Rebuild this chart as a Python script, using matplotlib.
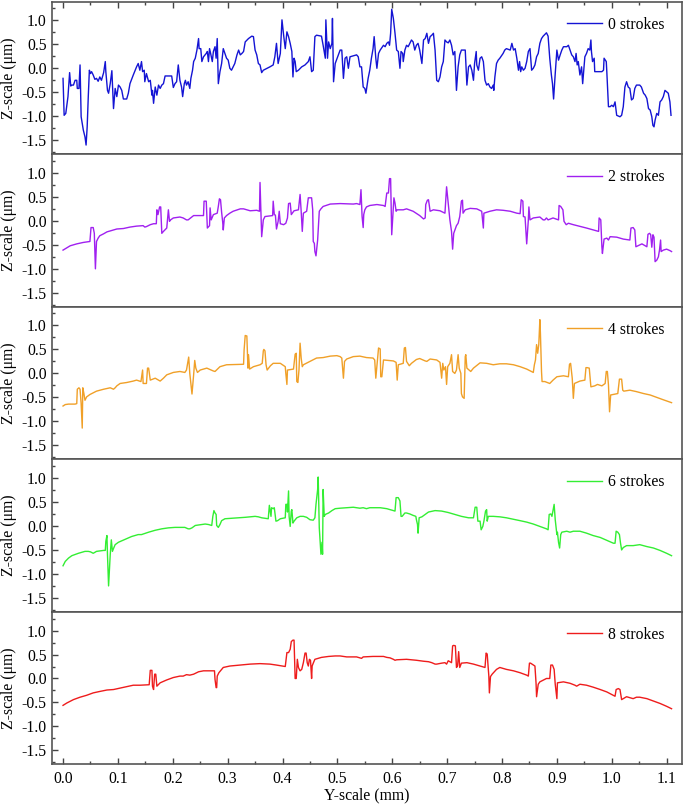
import numpy as np
import matplotlib
matplotlib.use("Agg")
import matplotlib.pyplot as plt
from matplotlib.ticker import MultipleLocator

plt.rcParams['font.family'] = ['Liberation Serif', 'DejaVu Serif']
plt.rcParams['font.size'] = 11.3

labels = ["0 strokes", "2 strokes", "4 strokes", "6 strokes", "8 strokes"]
colors = ["#1414d4", "#a020f0", "#f0a028", "#33ee33", "#ee1c1c"]

# 0 strokes
x0 = [0.000, 0.002, 0.005, 0.009, 0.010, 0.012, 0.014, 0.016, 0.019, 0.022, 0.025, 0.026, 0.029, 0.031,
      0.033, 0.037, 0.040, 0.042, 0.044, 0.046, 0.048, 0.050, 0.052, 0.055, 0.058, 0.061, 0.064, 0.067,
      0.070, 0.074, 0.077, 0.078, 0.081, 0.083, 0.086, 0.089, 0.092, 0.095, 0.098, 0.101, 0.104, 0.107,
      0.110, 0.116, 0.119, 0.122, 0.128, 0.134, 0.137, 0.140, 0.143, 0.145, 0.148, 0.149, 0.152, 0.156,
      0.159, 0.162, 0.163, 0.165, 0.168, 0.171, 0.174, 0.177, 0.180, 0.183, 0.186, 0.198, 0.201, 0.204,
      0.207, 0.210, 0.213, 0.216, 0.218, 0.221, 0.223, 0.225, 0.228, 0.231, 0.233, 0.236, 0.238, 0.241,
      0.244, 0.247, 0.248, 0.251, 0.253, 0.256, 0.261, 0.263, 0.265, 0.267, 0.269, 0.272, 0.274, 0.277,
      0.279, 0.281, 0.283, 0.286, 0.289, 0.292, 0.295, 0.298, 0.301, 0.304, 0.307, 0.310, 0.313, 0.317,
      0.320, 0.323, 0.326, 0.329, 0.332, 0.338, 0.344, 0.347, 0.350, 0.353, 0.356, 0.359, 0.362, 0.365,
      0.377, 0.383, 0.386, 0.389, 0.392, 0.396, 0.399, 0.402, 0.405, 0.408, 0.411, 0.414, 0.417, 0.419,
      0.421, 0.423, 0.425, 0.429, 0.435, 0.441, 0.447, 0.450, 0.453, 0.456, 0.459, 0.462, 0.471, 0.474,
      0.478, 0.479, 0.482, 0.484, 0.487, 0.490, 0.491, 0.493, 0.496, 0.505, 0.508, 0.511, 0.514, 0.517,
      0.520, 0.523, 0.535, 0.538, 0.541, 0.544, 0.547, 0.550, 0.552, 0.556, 0.559, 0.562, 0.565, 0.567,
      0.570, 0.572, 0.575, 0.578, 0.584, 0.587, 0.590, 0.593, 0.595, 0.597, 0.599, 0.602, 0.605, 0.608,
      0.611, 0.614, 0.616, 0.619, 0.620, 0.623, 0.626, 0.629, 0.632, 0.635, 0.638, 0.641, 0.644, 0.647,
      0.650, 0.654, 0.657, 0.660, 0.663, 0.666, 0.669, 0.672, 0.675, 0.678, 0.681, 0.684, 0.687, 0.690,
      0.693, 0.696, 0.699, 0.702, 0.705, 0.708, 0.711, 0.714, 0.717, 0.720, 0.723, 0.726, 0.733, 0.736,
      0.739, 0.742, 0.745, 0.748, 0.750, 0.753, 0.754, 0.757, 0.760, 0.763, 0.766, 0.769, 0.772, 0.775,
      0.778, 0.781, 0.784, 0.785, 0.787, 0.790, 0.793, 0.796, 0.802, 0.805, 0.808, 0.815, 0.818, 0.821,
      0.824, 0.827, 0.830, 0.832, 0.834, 0.836, 0.839, 0.842, 0.845, 0.848, 0.851, 0.854, 0.857, 0.860,
      0.863, 0.866, 0.869, 0.872, 0.875, 0.881, 0.884, 0.887, 0.890, 0.892, 0.894, 0.897, 0.900, 0.903,
      0.906, 0.909, 0.912, 0.918, 0.921, 0.924, 0.927, 0.930, 0.933, 0.935, 0.937, 0.939, 0.942, 0.945,
      0.947, 0.951, 0.954, 0.957, 0.960, 0.962, 0.963, 0.965, 0.968, 0.969, 0.982, 0.985, 0.986, 0.990,
      0.991, 0.994, 0.997, 1.000, 1.003, 1.006, 1.009, 1.015, 1.018, 1.021, 1.024, 1.027, 1.030, 1.033,
      1.036, 1.039, 1.042, 1.045, 1.051, 1.054, 1.058, 1.061, 1.064, 1.067, 1.070, 1.073, 1.075, 1.077,
      1.079, 1.082, 1.085, 1.088, 1.091, 1.094, 1.097, 1.100, 1.103, 1.106, 1.108]
z0 = [-0.21, -0.98, -0.94, -0.59, -0.42, -0.09, -0.37, -0.35, -0.35, -0.25, -0.25, -0.42, -0.42, 0.07,
      -1.01, -1.29, -1.43, -1.60, -1.22, -0.59, -0.04, -0.11, -0.07, -0.14, -0.23, -0.21, -0.27, -0.18,
      -0.25, -0.09, 0.14, -0.07, -0.46, -0.52, -0.32, -0.05, -0.84, -0.42, -0.59, -0.35, -0.39, -0.46,
      -0.64, -0.64, -0.52, -0.32, -0.14, 0.03, 0.10, -0.04, 0.14, -0.07, -0.04, -0.28, -0.11, -0.28,
      -0.25, -0.56, -0.46, -0.73, -0.39, -0.56, -0.35, -0.42, -0.35, -0.32, -0.16, -0.16, -0.40, -0.32,
      -0.28, 0.07, -0.25, -0.39, -0.59, -0.32, -0.25, -0.35, -0.28, -0.42, -0.21, -0.04, 0.14, 0.21,
      0.38, 0.62, 0.41, 0.41, 0.14, 0.24, 0.31, 0.35, 0.14, 0.41, 0.31, 0.14, 0.35, 0.45,
      0.21, 0.62, -0.32, -0.07, 0.10, 0.41, 0.31, 0.21, 0.17, 0.00, -0.04, 0.03, 0.10, 0.28,
      0.38, 0.28, 0.31, 0.35, 0.55, 0.62, 0.67, 0.66, 0.38, 0.28, 0.10, 0.07, -0.09, -0.04,
      0.03, 0.07, 0.24, 0.52, 0.10, 0.31, 1.01, 0.69, 0.41, 0.76, 0.66, 0.52, 0.35, -0.18,
      0.21, 0.14, -0.07, -0.04, 0.03, 0.07, 0.14, 0.24, -0.07, -0.04, 0.66, 0.69, 0.67, 0.48,
      0.21, 1.01, 0.21, 0.55, 0.41, 0.52, 1.04, -0.28, 0.10, 0.38, 0.38, -0.21, 0.21, 0.24,
      0.00, 0.24, 0.28, 0.24, 0.03, 0.03, -0.39, -0.42, -0.52, -0.21, -0.04, 0.21, 0.41, 0.66,
      0.21, 0.00, 0.31, 0.38, 0.48, 0.45, 0.52, 0.55, 0.48, 0.73, 1.23, 1.04, 0.73, 0.38,
      0.35, 0.00, 0.35, 0.31, 0.14, 0.38, 0.48, 0.45, 0.52, 0.59, 0.55, 0.38, 0.48, 0.52,
      0.38, 0.10, 0.59, 0.62, 0.73, 0.52, 0.66, 0.69, 0.73, 0.38, -0.25, -0.28, -0.18, 0.03,
      0.14, 0.59, 0.55, 0.53, 0.59, 0.48, 0.28, 0.35, -0.46, 0.03, 0.28, 0.38, 0.38, -0.35,
      0.03, 0.07, -0.04, -0.25, 0.10, 0.35, 0.07, -0.04, 0.21, 0.24, 0.14, -0.25, -0.35, -0.32,
      -0.39, -0.42, -0.35, -0.46, -0.18, 0.10, 0.17, 0.21, 0.31, 0.38, 0.41, 0.38, 0.52, 0.38,
      0.41, 0.21, -0.04, 0.14, -0.07, 0.03, -0.04, 0.00, 0.14, 0.35, 0.41, -0.04, 0.00, 0.07,
      0.24, 0.31, 0.52, 0.62, 0.67, 0.74, 0.67, 0.21, -0.14, -0.32, -0.64, -0.11, 0.38, 0.17,
      0.28, 0.38, 0.45, 0.45, 0.48, 0.38, 0.28, 0.24, 0.14, 0.31, 0.07, 0.14, -0.14, 0.03,
      -0.32, 0.24, 0.31, 0.41, 0.38, 0.59, 0.35, 0.14, 0.21, -0.07, -0.07, -0.04, 0.21, 0.14,
      -0.07, -0.80, -0.80, -0.77, -0.80, -0.70, -0.98, -1.01, -0.98, -0.80, -0.39, -0.28, -0.39, -0.42,
      -0.66, -0.63, -0.42, -0.35, -0.35, -0.39, -0.52, -0.56, -0.63, -0.84, -0.87, -1.01, -1.19, -1.22,
      -1.08, -0.94, -0.98, -0.70, -0.66, -0.59, -0.46, -0.49, -0.52, -0.70, -0.98]

# 2 strokes
x2 = [0.000, 0.013, 0.025, 0.037, 0.049, 0.051, 0.055, 0.057, 0.059, 0.061, 0.064, 0.067, 0.074, 0.080,
      0.086, 0.092, 0.098, 0.110, 0.122, 0.134, 0.146, 0.149, 0.152, 0.159, 0.165, 0.170, 0.171, 0.173,
      0.176, 0.178, 0.180, 0.183, 0.189, 0.192, 0.194, 0.196, 0.201, 0.213, 0.219, 0.225, 0.228, 0.238,
      0.256, 0.257, 0.261, 0.263, 0.267, 0.268, 0.270, 0.274, 0.281, 0.283, 0.285, 0.287, 0.289, 0.291,
      0.292, 0.294, 0.298, 0.304, 0.310, 0.323, 0.329, 0.341, 0.353, 0.358, 0.359, 0.362, 0.365, 0.368,
      0.382, 0.383, 0.385, 0.387, 0.389, 0.392, 0.394, 0.396, 0.402, 0.406, 0.409, 0.411, 0.414, 0.416,
      0.421, 0.429, 0.432, 0.434, 0.436, 0.438, 0.444, 0.447, 0.453, 0.455, 0.456, 0.458, 0.459, 0.461,
      0.464, 0.467, 0.470, 0.474, 0.487, 0.505, 0.529, 0.535, 0.541, 0.543, 0.545, 0.547, 0.548, 0.550,
      0.553, 0.559, 0.572, 0.584, 0.587, 0.590, 0.593, 0.595, 0.597, 0.599, 0.601, 0.603, 0.605, 0.607,
      0.609, 0.620, 0.626, 0.638, 0.650, 0.657, 0.660, 0.661, 0.664, 0.666, 0.669, 0.675, 0.687, 0.696,
      0.699, 0.702, 0.705, 0.708, 0.710, 0.712, 0.717, 0.720, 0.723, 0.726, 0.728, 0.729, 0.733, 0.742,
      0.754, 0.763, 0.766, 0.767, 0.778, 0.790, 0.802, 0.815, 0.827, 0.833, 0.835, 0.838, 0.839, 0.842,
      0.845, 0.848, 0.849, 0.851, 0.857, 0.869, 0.875, 0.878, 0.881, 0.884, 0.893, 0.903, 0.904, 0.907,
      0.911, 0.913, 0.917, 0.921, 0.930, 0.954, 0.976, 0.977, 0.980, 0.982, 0.983, 0.986, 0.991, 0.994,
      0.997, 1.009, 1.021, 1.033, 1.035, 1.039, 1.042, 1.044, 1.055, 1.064, 1.066, 1.069, 1.071, 1.073,
      1.075, 1.077, 1.079, 1.082, 1.085, 1.087, 1.089, 1.090, 1.094, 1.100, 1.106, 1.109]
z2 = [-0.61, -0.52, -0.48, -0.45, -0.43, -0.14, -0.14, -0.26, -1.00, -0.43, -0.36, -0.31, -0.27, -0.23,
      -0.21, -0.19, -0.17, -0.16, -0.13, -0.11, -0.10, -0.13, -0.12, -0.08, -0.06, -0.06, 0.23, 0.13,
      0.29, 0.29, -0.26, -0.22, -0.15, 0.23, -0.01, 0.02, 0.06, 0.08, 0.06, 0.02, 0.02, 0.11,
      0.11, 0.41, 0.41, -0.15, -0.10, 0.27, 0.02, 0.13, 0.16, 0.30, 0.46, 0.44, 0.18, -0.03,
      -0.19, 0.06, 0.11, 0.16, 0.20, 0.25, 0.25, 0.21, 0.22, 0.20, 0.80, -0.33, 0.02, 0.09,
      0.11, 0.41, 0.13, 0.12, -0.17, -0.01, 0.20, -0.06, -0.08, -0.05, 0.06, 0.36, 0.37, 0.13,
      0.21, 0.23, 0.55, 0.20, -0.22, 0.16, 0.20, 0.48, 0.48, 0.23, -0.43, -0.47, -0.64, -0.73,
      -0.40, 0.20, 0.25, 0.30, 0.35, 0.36, 0.35, 0.36, 0.34, 0.65, 0.09, -0.14, 0.13, 0.23,
      0.29, 0.32, 0.34, 0.32, 0.30, 0.58, 0.58, 0.88, 0.88, -0.29, 0.09, 0.48, 0.37, 0.20,
      0.23, 0.23, 0.25, 0.20, 0.11, 0.04, 0.06, 0.34, 0.43, 0.44, 0.20, 0.23, 0.21, 0.16,
      0.71, 0.37, 0.02, -0.22, -0.59, -0.26, -0.10, -0.05, 0.09, 0.41, 0.43, 0.16, 0.23, 0.26,
      0.25, 0.20, -0.15, 0.16, 0.20, 0.23, 0.22, 0.20, 0.16, 0.15, 0.44, 0.41, 0.09, 0.08,
      -0.48, 0.02, 0.29, 0.02, 0.06, 0.08, 0.02, 0.02, 0.06, 0.02, 0.06, 0.02, 0.32, 0.30,
      0.23, -0.01, -0.08, -0.05, -0.08, -0.15, -0.22, 0.06, 0.02, -0.54, -0.68, -0.38, -0.36, -0.40,
      -0.33, -0.34, -0.38, -0.40, -0.15, -0.14, -0.19, -0.54, -0.48, -0.54, -0.28, -0.26, -0.29, -0.55,
      -0.29, -0.34, -0.85, -0.82, -0.75, -0.61, -0.40, -0.64, -0.61, -0.59, -0.62, -0.64]

# 4 strokes
x4 = [0.000, 0.004, 0.010, 0.022, 0.025, 0.026, 0.029, 0.031, 0.033, 0.035, 0.036, 0.038, 0.040, 0.043,
      0.049, 0.061, 0.074, 0.086, 0.092, 0.095, 0.098, 0.104, 0.116, 0.128, 0.134, 0.139, 0.142, 0.145,
      0.146, 0.152, 0.154, 0.156, 0.159, 0.168, 0.177, 0.183, 0.189, 0.201, 0.213, 0.222, 0.225, 0.229,
      0.231, 0.233, 0.235, 0.238, 0.240, 0.242, 0.245, 0.250, 0.262, 0.274, 0.277, 0.286, 0.298, 0.329,
      0.330, 0.332, 0.335, 0.337, 0.338, 0.340, 0.347, 0.359, 0.363, 0.365, 0.366, 0.368, 0.370, 0.372,
      0.378, 0.383, 0.396, 0.405, 0.406, 0.408, 0.409, 0.420, 0.423, 0.425, 0.426, 0.428, 0.430, 0.432,
      0.434, 0.436, 0.438, 0.450, 0.462, 0.474, 0.487, 0.499, 0.505, 0.508, 0.511, 0.513, 0.517, 0.529,
      0.541, 0.553, 0.565, 0.568, 0.570, 0.573, 0.575, 0.578, 0.579, 0.581, 0.584, 0.602, 0.607, 0.609,
      0.611, 0.620, 0.622, 0.624, 0.626, 0.631, 0.635, 0.644, 0.650, 0.660, 0.663, 0.669, 0.681, 0.687,
      0.690, 0.692, 0.694, 0.697, 0.699, 0.701, 0.705, 0.708, 0.710, 0.714, 0.717, 0.720, 0.722, 0.725,
      0.726, 0.728, 0.731, 0.733, 0.734, 0.736, 0.743, 0.748, 0.760, 0.772, 0.784, 0.796, 0.808, 0.821,
      0.833, 0.845, 0.857, 0.859, 0.861, 0.863, 0.865, 0.867, 0.868, 0.869, 0.870, 0.872, 0.873, 0.878,
      0.887, 0.893, 0.900, 0.912, 0.921, 0.923, 0.925, 0.928, 0.930, 0.932, 0.942, 0.951, 0.953, 0.955,
      0.959, 0.962, 0.969, 0.974, 0.982, 0.988, 0.990, 0.992, 0.994, 0.996, 0.998, 1.011, 1.014, 1.018,
      1.020, 1.022, 1.033, 1.045, 1.058, 1.070, 1.082, 1.094, 1.109]
z4 = [-0.68, -0.65, -0.64, -0.64, -0.63, -0.33, -0.30, -0.33, -0.63, -1.14, -0.30, -0.42, -0.56, -0.49,
      -0.44, -0.37, -0.33, -0.30, -0.33, -0.30, -0.26, -0.21, -0.19, -0.16, -0.14, -0.16, -0.17, 0.07,
      -0.21, -0.21, 0.11, 0.11, -0.14, -0.10, -0.16, -0.10, -0.03, 0.02, 0.04, 0.02, 0.07, 0.34,
      0.00, -0.21, -0.43, -0.03, 0.27, 0.11, 0.02, 0.07, 0.11, 0.05, 0.04, 0.14, 0.18, 0.19,
      0.49, 0.79, 0.78, 0.11, 0.39, 0.09, 0.14, 0.18, 0.21, 0.47, 0.50, 0.47, 0.18, 0.07,
      0.16, 0.21, 0.21, 0.14, 0.00, -0.23, 0.07, 0.09, 0.40, 0.42, -0.17, -0.19, 0.07, 0.63,
      0.32, 0.14, 0.18, 0.25, 0.32, 0.33, 0.36, 0.37, 0.35, 0.32, -0.10, 0.25, 0.30, 0.35,
      0.36, 0.33, 0.32, 0.28, -0.10, 0.28, 0.53, 0.51, -0.07, -0.07, 0.28, 0.26, 0.23, -0.14,
      0.18, 0.21, 0.53, 0.54, 0.25, 0.16, 0.21, 0.29, 0.31, 0.26, 0.25, 0.30, 0.28, 0.23,
      -0.10, 0.21, 0.07, 0.14, -0.23, 0.14, 0.21, 0.39, 0.04, 0.00, 0.07, 0.39, 0.11, 0.00,
      -0.42, -0.49, -0.52, 0.35, 0.39, 0.11, 0.04, 0.11, 0.22, 0.21, 0.18, 0.20, 0.20, 0.18,
      0.14, 0.09, 0.02, 0.18, 0.28, 0.60, 0.42, 0.60, 0.84, 1.12, 0.84, 0.04, -0.17, -0.17,
      -0.21, -0.14, -0.07, -0.05, -0.07, 0.19, 0.21, -0.10, -0.52, -0.21, -0.16, -0.14, 0.12, 0.12,
      0.11, -0.28, -0.26, -0.23, -0.26, -0.21, 0.04, 0.04, -0.24, -0.80, -0.45, -0.42, -0.12, -0.12,
      -0.35, -0.37, -0.35, -0.38, -0.42, -0.45, -0.50, -0.55, -0.61]

# 6 strokes
x6 = [0.000, 0.004, 0.010, 0.016, 0.028, 0.040, 0.046, 0.050, 0.055, 0.061, 0.074, 0.077, 0.078, 0.080,
      0.081, 0.083, 0.086, 0.088, 0.090, 0.092, 0.095, 0.101, 0.113, 0.125, 0.137, 0.143, 0.156, 0.168,
      0.180, 0.192, 0.204, 0.216, 0.222, 0.228, 0.231, 0.235, 0.241, 0.253, 0.259, 0.265, 0.271, 0.273,
      0.275, 0.277, 0.279, 0.280, 0.283, 0.286, 0.289, 0.295, 0.307, 0.320, 0.332, 0.350, 0.356, 0.362,
      0.374, 0.376, 0.379, 0.380, 0.383, 0.385, 0.388, 0.391, 0.396, 0.405, 0.406, 0.408, 0.409, 0.411,
      0.412, 0.414, 0.416, 0.417, 0.419, 0.421, 0.426, 0.432, 0.438, 0.444, 0.450, 0.456, 0.459, 0.461,
      0.464, 0.465, 0.467, 0.470, 0.472, 0.473, 0.474, 0.476, 0.478, 0.484, 0.490, 0.496, 0.505, 0.529,
      0.541, 0.547, 0.553, 0.559, 0.578, 0.590, 0.596, 0.605, 0.607, 0.611, 0.614, 0.616, 0.618, 0.623,
      0.626, 0.632, 0.638, 0.643, 0.644, 0.646, 0.647, 0.649, 0.654, 0.660, 0.666, 0.678, 0.690, 0.702,
      0.714, 0.726, 0.739, 0.748, 0.751, 0.754, 0.756, 0.760, 0.762, 0.765, 0.767, 0.770, 0.772, 0.773,
      0.775, 0.784, 0.796, 0.808, 0.821, 0.833, 0.845, 0.857, 0.869, 0.881, 0.884, 0.886, 0.889, 0.891,
      0.894, 0.895, 0.897, 0.900, 0.901, 0.903, 0.905, 0.907, 0.909, 0.918, 0.924, 0.930, 0.942, 0.954,
      0.966, 0.979, 0.991, 1.003, 1.006, 1.008, 1.011, 1.014, 1.016, 1.018, 1.021, 1.027, 1.033, 1.039,
      1.051, 1.064, 1.076, 1.088, 1.100, 1.109]
z6 = [-0.83, -0.74, -0.67, -0.62, -0.57, -0.53, -0.53, -0.54, -0.57, -0.53, -0.51, -0.51, -0.32, -0.20,
      -0.60, -1.25, -0.60, -0.29, -0.53, -0.47, -0.39, -0.34, -0.28, -0.22, -0.18, -0.18, -0.13, -0.09,
      -0.06, -0.04, -0.03, -0.03, -0.03, -0.06, -0.06, -0.04, 0.01, 0.03, 0.04, 0.03, 0.01, 0.20,
      0.32, 0.27, 0.24, 0.01, -0.03, 0.03, 0.11, 0.15, 0.16, 0.17, 0.18, 0.20, 0.19, 0.17,
      0.15, 0.43, 0.20, 0.38, 0.36, 0.38, 0.10, 0.11, 0.15, 0.17, 0.45, 0.45, 0.29, 0.73,
      0.20, -0.01, 0.31, 0.34, 0.06, 0.10, 0.17, 0.20, 0.20, 0.18, 0.13, 0.12, 0.17, 0.45,
      0.76, 1.02, -0.04, -0.59, -0.34, -0.59, 0.76, 0.20, 0.24, 0.27, 0.32, 0.36, 0.37, 0.39,
      0.37, 0.38, 0.36, 0.38, 0.38, 0.36, 0.34, 0.31, 0.59, 0.59, 0.52, 0.20, 0.20, 0.27,
      0.27, 0.25, 0.22, 0.20, 0.13, 0.03, -0.15, 0.17, 0.19, 0.24, 0.29, 0.32, 0.31, 0.28,
      0.24, 0.20, 0.17, 0.17, 0.39, 0.39, 0.10, 0.10, -0.08, -0.01, 0.10, 0.31, 0.34, 0.10,
      0.20, 0.20, 0.19, 0.17, 0.14, 0.11, 0.08, 0.04, -0.01, -0.06, -0.08, 0.24, 0.25, 0.20,
      0.38, 0.45, 0.13, -0.18, -0.13, -0.34, -0.46, -0.18, -0.13, -0.11, -0.13, -0.11, -0.11, -0.15,
      -0.20, -0.24, -0.30, -0.36, -0.36, -0.11, -0.13, -0.18, -0.36, -0.50, -0.45, -0.41, -0.41, -0.41,
      -0.39, -0.43, -0.46, -0.51, -0.57, -0.62]

# 8 strokes
x8 = [0.000, 0.007, 0.019, 0.031, 0.043, 0.055, 0.067, 0.080, 0.092, 0.104, 0.116, 0.128, 0.140, 0.157,
      0.159, 0.162, 0.163, 0.165, 0.167, 0.169, 0.171, 0.177, 0.189, 0.201, 0.213, 0.219, 0.225, 0.231,
      0.238, 0.247, 0.256, 0.274, 0.276, 0.277, 0.279, 0.280, 0.281, 0.284, 0.292, 0.304, 0.323, 0.341,
      0.359, 0.377, 0.389, 0.405, 0.408, 0.411, 0.414, 0.416, 0.419, 0.421, 0.423, 0.425, 0.427, 0.429,
      0.432, 0.435, 0.438, 0.441, 0.443, 0.445, 0.447, 0.449, 0.451, 0.453, 0.454, 0.456, 0.459, 0.471,
      0.484, 0.496, 0.505, 0.517, 0.529, 0.535, 0.541, 0.544, 0.547, 0.565, 0.584, 0.590, 0.596, 0.602,
      0.605, 0.608, 0.626, 0.644, 0.657, 0.666, 0.672, 0.678, 0.681, 0.690, 0.696, 0.699, 0.702, 0.708,
      0.710, 0.712, 0.715, 0.717, 0.719, 0.721, 0.723, 0.726, 0.736, 0.748, 0.760, 0.769, 0.771, 0.773,
      0.776, 0.777, 0.779, 0.782, 0.790, 0.796, 0.808, 0.821, 0.833, 0.845, 0.848, 0.850, 0.852, 0.860,
      0.862, 0.863, 0.866, 0.869, 0.881, 0.887, 0.889, 0.892, 0.895, 0.897, 0.900, 0.901, 0.912, 0.924,
      0.933, 0.936, 0.942, 0.954, 0.966, 0.979, 0.991, 1.003, 1.006, 1.008, 1.012, 1.015, 1.018, 1.027,
      1.033, 1.039, 1.045, 1.051, 1.064, 1.076, 1.088, 1.100, 1.109]
z8 = [-0.56, -0.51, -0.44, -0.39, -0.35, -0.30, -0.27, -0.24, -0.23, -0.20, -0.17, -0.14, -0.14, -0.13,
      0.17, 0.17, -0.16, -0.23, 0.09, 0.09, -0.16, -0.09, -0.03, 0.02, 0.05, 0.05, 0.08, 0.07,
      0.09, 0.14, 0.16, 0.16, 0.16, -0.02, -0.19, -0.19, 0.05, 0.12, 0.23, 0.26, 0.28, 0.30,
      0.31, 0.30, 0.28, 0.25, 0.54, 0.54, 0.61, 0.77, 0.80, 0.80, 0.00, 0.00, 0.40, 0.23,
      0.16, 0.19, 0.33, 0.53, 0.53, 0.33, 0.26, 0.40, 0.38, 0.00, 0.26, 0.32, 0.40, 0.44,
      0.46, 0.47, 0.47, 0.45, 0.45, 0.45, 0.43, 0.42, 0.45, 0.46, 0.46, 0.44, 0.43, 0.40,
      0.38, 0.39, 0.40, 0.38, 0.36, 0.35, 0.33, 0.30, 0.30, 0.32, 0.33, 0.30, 0.37, 0.33,
      0.68, 0.69, 0.68, 0.23, 0.26, 0.56, 0.23, 0.32, 0.33, 0.30, 0.26, 0.23, 0.53, 0.51,
      0.05, -0.30, 0.04, 0.09, 0.19, 0.23, 0.19, 0.16, 0.12, 0.07, 0.05, 0.32, 0.32, 0.26,
      -0.09, -0.38, -0.12, -0.07, 0.00, 0.00, 0.28, 0.28, 0.19, -0.12, -0.42, -0.09, -0.07, -0.10,
      -0.14, -0.16, -0.12, -0.14, -0.18, -0.23, -0.28, -0.35, -0.37, -0.23, -0.21, -0.23, -0.44, -0.38,
      -0.40, -0.42, -0.39, -0.39, -0.42, -0.47, -0.52, -0.58, -0.63]

xs = [x0, x2, x4, x6, x8]
zs = [z0, z2, z4, z6, z8]

fig, axes = plt.subplots(5, 1, sharex=True, figsize=(6.85, 8.08), dpi=100)
fig.subplots_adjust(left=0.076, right=0.9956, top=0.998, bottom=0.054, hspace=0)

for i, ax in enumerate(axes):
    ax.plot(np.array(xs[i]), np.array(zs[i]), color=colors[i], lw=1.0, label=labels[i])
    ax.set_xlim(-0.02, 1.128)
    ax.set_ylim(-1.79, 1.39)
    ax.yaxis.set_minor_locator(MultipleLocator(0.25))
    ax.xaxis.set_major_locator(MultipleLocator(0.1))
    ax.xaxis.set_minor_locator(MultipleLocator(0.05))
    ax.set_yticks([-1.5, -1.0, -0.5, 0.0, 0.5, 1.0])
    ax.set_yticklabels(["-1.5", "-1.0", "-0.5", "0.0", "0.5", "1.0"])
    ax.tick_params(which='both', direction='in', right=False, top=False, bottom=False, labelbottom=False)
    ax.tick_params(which='major', length=4, width=1, color='#444444')
    ax.tick_params(which='minor', length=2, width=1, color='#444444')
    ax.tick_params(axis='y', which='both', left=True, pad=4)
    for s in ax.spines.values():
        s.set_color('#555555')
        s.set_linewidth(1.2)
    ax.set_ylabel("Z-scale (μm)", labelpad=3)
    ax.legend(loc='upper right', frameon=False, handlelength=2.2, handletextpad=0.4,
              bbox_to_anchor=(0.995, 0.995))

axes[0].tick_params(axis='x', which='both', top=True)
axes[-1].tick_params(axis='x', which='both', bottom=True, labelbottom=True, pad=5)
axes[-1].set_xticks(np.arange(0, 1.15, 0.1))
axes[-1].set_xticklabels(["%.1f" % v for v in np.arange(0, 1.15, 0.1)])
axes[-1].set_xlabel("Y-scale (mm)", labelpad=0)

plt.savefig("out.png", dpi=100)
